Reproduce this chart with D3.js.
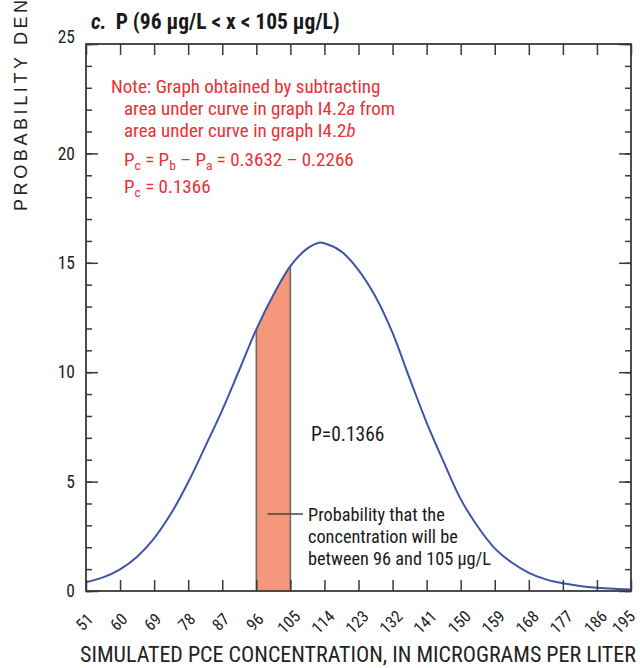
<!DOCTYPE html>
<html>
<head>
<meta charset="utf-8">
<script src="https://cdn.jsdelivr.net/npm/d3@7"></script>
<style>
  html, body { margin: 0; padding: 0; background: #fff; }
  svg { display: block; }
  .narrow { font-family: "Liberation Sans Narrow", "Arial Narrow", "Roboto Condensed", "DejaVu Sans Condensed", sans-serif; }
</style>
</head>
<body>
<svg id="chart" width="640" height="668"></svg>
<script>
// Simulated PCE concentration (µg/L) and probability density (x 1,000)
const concentration = [51, 55.5, 60, 64.5, 69, 73.5, 78, 82.5, 87, 91.5, 96, 100.5, 105, 109.5, 112.6, 114,
  118.5, 123, 127.5, 132, 136.5, 141, 145.5, 150, 154.5, 159, 163.5, 168, 172.5, 177, 181.5, 186, 190.5, 195];
const density = [0.40, 0.62, 0.99, 1.57, 2.41, 3.55, 4.97, 6.6, 8.27, 10.1, 11.96, 13.53, 14.85, 15.66, 15.92, 15.89,
  15.51, 14.67, 13.45, 11.8, 9.72, 7.7, 5.9, 4.2, 2.95, 1.95, 1.3, 0.83, 0.53, 0.35, 0.23, 0.15, 0.1, 0.07];

const xTicks = [51, 60, 69, 78, 87, 96, 105, 114, 123, 132, 141, 150, 159, 168, 177, 186, 195];
const yTicks = [0, 5, 10, 15, 20, 25];
const yMinorTicks = d3.range(0, 26, 1);

const band = [96, 105];
const probability = "P=0.1366";

const noteLines = [
  "Note: Graph obtained by subtracting",
  "area under curve in graph I4.2",
  "area under curve in graph I4.2"
];

const svg = d3.select("#chart");
const W = 640;
const frame = { left: 86, right: 631, top: 44, bottom: 591 };

const x = d3.scaleLinear().domain([51, 195]).range([frame.left, frame.right]);
const y = d3.scaleLinear().domain([0, 25]).range([frame.bottom, frame.top]);

const points = concentration.map((c, i) => ({ c, d: density[i] }));
const curve = d3.curveCatmullRom.alpha(0.5);

// shaded probability band, clipped to the interval
svg.append("defs").append("clipPath").attr("id", "bandClip")
  .append("rect")
  .attr("x", x(band[0])).attr("y", frame.top)
  .attr("width", x(band[1]) - x(band[0])).attr("height", frame.bottom - frame.top);

svg.append("path")
  .datum(points)
  .attr("clip-path", "url(#bandClip)")
  .attr("fill", "#f5977a")
  .attr("d", d3.area().x(p => x(p.c)).y0(y(0)).y1(p => y(p.d)).curve(curve));

// band edges
const line = d3.line().x(p => x(p.c)).y(p => y(p.d)).curve(curve);
const pathNode = svg.append("path").datum(points).attr("d", line).attr("fill", "none").node();
function curveYAt(px) {
  // locate the drawn curve height at a given pixel x
  const len = pathNode.getTotalLength();
  let lo = 0, hi = len;
  for (let i = 0; i < 40; i++) {
    const mid = (lo + hi) / 2;
    if (pathNode.getPointAtLength(mid).x < px) lo = mid; else hi = mid;
  }
  return pathNode.getPointAtLength(lo).y;
}
d3.select(pathNode).remove();

band.forEach(v => {
  svg.append("line")
    .attr("x1", x(v)).attr("x2", x(v))
    .attr("y1", y(0)).attr("y2", curveYAt(x(v)))
    .attr("stroke", "#6b6b6b").attr("stroke-width", 1.6);
});

// density curve
svg.append("path")
  .datum(points)
  .attr("fill", "none")
  .attr("stroke", "#3b56a8")
  .attr("stroke-width", 2)
  .attr("d", line);

// frame and ticks
const axisColor = "#3a3a3a";
const gBottom = svg.append("g").attr("transform", `translate(0,${frame.bottom})`)
  .call(d3.axisBottom(x).tickValues(xTicks).tickSize(-11).tickFormat(""));
const gTop = svg.append("g").attr("transform", `translate(0,${frame.top})`)
  .call(d3.axisTop(x).tickValues(xTicks).tickSize(-11).tickFormat(""));
const gLeftMinor = svg.append("g").attr("transform", `translate(${frame.left},0)`)
  .call(d3.axisLeft(y).tickValues(yMinorTicks).tickSize(-6).tickFormat(""));
const gLeft = svg.append("g").attr("transform", `translate(${frame.left},0)`)
  .call(d3.axisLeft(y).tickValues(yTicks).tickSize(-12).tickFormat(""));
const gRightMinor = svg.append("g").attr("transform", `translate(${frame.right},0)`)
  .call(d3.axisRight(y).tickValues(yMinorTicks).tickSize(-6).tickFormat(""));
const gRight = svg.append("g").attr("transform", `translate(${frame.right},0)`)
  .call(d3.axisRight(y).tickValues(yTicks).tickSize(-12).tickFormat(""));

[gBottom, gTop, gLeftMinor, gLeft, gRightMinor, gRight].forEach(g => {
  g.selectAll(".domain").remove();
  g.selectAll(".tick line").attr("stroke", axisColor).attr("stroke-width", 1.5);
});

svg.append("rect")
  .attr("x", frame.left).attr("y", frame.top)
  .attr("width", frame.right - frame.left).attr("height", frame.bottom - frame.top)
  .attr("fill", "none").attr("stroke", axisColor).attr("stroke-width", 1.8);

// y tick labels
svg.append("g").selectAll("text").data(yTicks).join("text")
  .attr("class", "narrow")
  .attr("x", 75)
  .attr("y", d => y(d) + (d === 25 ? -7 : 0))
  .attr("dy", "0.35em")
  .attr("text-anchor", "end")
  .attr("font-size", 17.5)
  .attr("fill", "#222")
  .text(d => d);

// x tick labels, rotated; nudged left if one would run past the right edge
const labelY = 622;
svg.append("g").selectAll("text").data(xTicks).join("text")
  .attr("class", "narrow")
  .attr("transform", d => `translate(${x(d) - 1.5},${labelY}) rotate(-45)`)
  .attr("text-anchor", "middle")
  .attr("dy", "0.35em")
  .attr("font-size", 16.5)
  .attr("fill", "#222")
  .text(d => d)
  .each(function (d) {
    const r = this.getBoundingClientRect();
    const overflow = r.right - (W - 1);
    if (overflow > 0) {
      d3.select(this).attr("transform", `translate(${x(d) - 1.5 - overflow},${labelY}) rotate(-45)`);
    }
  });

// axis titles
svg.append("text")
  .attr("class", "narrow")
  .attr("x", 358).attr("y", 662)
  .attr("text-anchor", "middle")
  .attr("font-size", 22)
  .attr("fill", "#222")
  .text("SIMULATED PCE CONCENTRATION, IN MICROGRAMS PER LITER");

svg.append("text")
  .attr("transform", "translate(27,211) rotate(-90)")
  .attr("text-anchor", "start")
  .attr("font-family", "Liberation Sans, Arial, sans-serif")
  .attr("font-size", 18)
  .attr("letter-spacing", 3.6)
  .attr("fill", "#222")
  .text("PROBABILITY DENSITY");

// panel title
const title = svg.append("text").attr("class", "narrow")
  .attr("x", 91).attr("y", 29)
  .attr("font-size", 21.5).attr("font-weight", "bold").attr("fill", "#1a1a1a");
title.append("tspan").attr("font-style", "italic").text("c.");
title.append("tspan").attr("dx", 9).text("P (96 µg/L < x < 105 µg/L)");

// note in red
const red = "#ea3036";
const note = svg.append("g").attr("class", "narrow").attr("fill", red).attr("font-size", 19);
note.append("text").attr("x", 111).attr("y", 93).text(noteLines[0]);
const n2 = note.append("text").attr("x", 124).attr("y", 114.5);
n2.append("tspan").text(noteLines[1]);
n2.append("tspan").attr("font-style", "italic").text("a");
n2.append("tspan").text(" from");
const n3 = note.append("text").attr("x", 124).attr("y", 137);
n3.append("tspan").text(noteLines[2]);
n3.append("tspan").attr("font-style", "italic").text("b");

const eq1 = note.append("text").attr("x", 124).attr("y", 166);
eq1.append("tspan").text("P");
eq1.append("tspan").attr("font-size", 13.5).attr("dy", 4).text("c");
eq1.append("tspan").attr("dy", -4).text(" = P");
eq1.append("tspan").attr("font-size", 13.5).attr("dy", 4).text("b");
eq1.append("tspan").attr("dy", -4).text(" – P");
eq1.append("tspan").attr("font-size", 13.5).attr("dy", 4).text("a");
eq1.append("tspan").attr("dy", -4).text(" = 0.3632 – 0.2266");

const eq2 = note.append("text").attr("x", 124).attr("y", 193);
eq2.append("tspan").text("P");
eq2.append("tspan").attr("font-size", 13.5).attr("dy", 4).text("c");
eq2.append("tspan").attr("dy", -4).text(" = 0.1366");

// probability label
svg.append("text").attr("class", "narrow")
  .attr("x", 311).attr("y", 441)
  .attr("font-size", 19.5).attr("fill", "#1a1a1a")
  .text(probability);

// callout
svg.append("line")
  .attr("x1", x(100.5) - 6).attr("x2", 303)
  .attr("y1", 514).attr("y2", 514)
  .attr("stroke", "#444").attr("stroke-width", 1.3);

const callout = ["Probability that the", "concentration will be", "between 96 and 105 µg/L"];
svg.append("g").attr("class", "narrow").attr("font-size", 18.3).attr("fill", "#1a1a1a")
  .selectAll("text").data(callout).join("text")
  .attr("x", 308).attr("y", (d, i) => 521 + i * 22)
  .text(d => d);
</script>
</body>
</html>
